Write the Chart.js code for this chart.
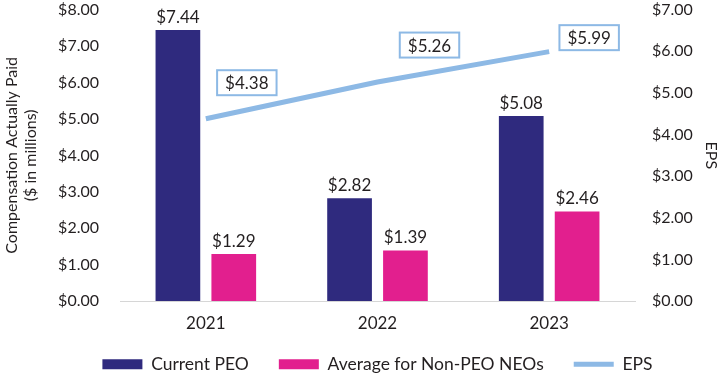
<!DOCTYPE html>
<html>
<head>
<meta charset="utf-8">
<script src="https://cdn.jsdelivr.net/npm/chart.js@4"></script>
<style>
  html, body { margin: 0; padding: 0; background: #fff; }
  #wrap { width: 725px; height: 376px; }
</style>
</head>
<body>
<div id="wrap"><canvas id="capChart" width="725" height="376"></canvas></div>
<script>
var years = ['2021', '2022', '2023'];
var peoPay = [7.44, 2.82, 5.08];
var neoPay = [1.29, 1.39, 2.46];
var eps = [4.38, 5.26, 5.99];

var navy = '#2f2a7e';
var pink = '#e21f8e';
var lightBlue = '#8db9e5';
var textColor = '#231f20';
var fontFamily = 'Lato, "Open Sans", sans-serif';

function money(v) { return '$' + Number(v).toFixed(2); }

// value labels above bars, boxed labels for the EPS line
var valueLabels = {
    id: 'valueLabels',
    afterDatasetsDraw: function(chart, args, opts) {
        var ctx = chart.ctx;
        ctx.save();
        ctx.font = '17px ' + fontFamily;
        ctx.textAlign = 'center';
        chart.data.datasets.forEach(function(ds, di) {
            var meta = chart.getDatasetMeta(di);
            meta.data.forEach(function(el, i) {
                var txt = money(ds.data[i]);
                if (ds.type === 'line') {
                    var off = opts.epsOffsets[i];
                    var cx = el.x + off[0], cy = el.y + off[1];
                    var w = ctx.measureText(txt).width + 16, h = 25;
                    ctx.fillStyle = '#fff';
                    ctx.fillRect(cx - w / 2, cy - h / 2, w, h);
                    ctx.strokeStyle = lightBlue;
                    ctx.lineWidth = 2;
                    ctx.strokeRect(cx - w / 2, cy - h / 2, w, h);
                    ctx.fillStyle = textColor;
                    ctx.textBaseline = 'middle';
                    ctx.fillText(txt, cx, cy + 1);
                } else {
                    ctx.fillStyle = textColor;
                    ctx.textBaseline = 'bottom';
                    ctx.fillText(txt, el.x, el.y - 4);
                }
            });
        });
        ctx.restore();
    }
};

// legend row sits centred under the plot and a little higher
var legendShift = {
    id: 'legendShift',
    afterLayout: function(chart) {
        chart.legend.left += 15;
        chart.legend.right += 15;
        chart.legend.top -= 20;
        chart.legend.bottom -= 20;
    }
};

var ctx = document.getElementById('capChart').getContext('2d');
var capChart = new Chart(ctx, {
    type: 'bar',
    data: {
        labels: years,
        datasets: [{
            type: 'line',
            label: 'EPS',
            data: eps,
            yAxisID: 'yEps',
            borderColor: lightBlue,
            backgroundColor: lightBlue,
            borderWidth: 5,
            pointRadius: 0,
            pointStyle: 'line',
            order: 0
        }, {
            label: 'Current PEO',
            data: peoPay,
            yAxisID: 'y',
            backgroundColor: navy,
            pointStyle: 'rect',
            categoryPercentage: 0.651,
            barPercentage: 0.8,
            order: 1
        }, {
            label: 'Average for Non-PEO NEOs',
            data: neoPay,
            yAxisID: 'y',
            backgroundColor: pink,
            pointStyle: 'rect',
            categoryPercentage: 0.651,
            barPercentage: 0.8,
            order: 1
        }]
    },
    options: {
        responsive: false,
        animation: false,
        layout: { padding: { top: 0, bottom: -27, left: 0, right: 0 } },
        plugins: {
            tooltip: { enabled: false },
            valueLabels: { epsOffsets: [[41, -36], [52, -37], [40, -14]] },
            legend: {
                position: 'bottom',
                labels: {
                    usePointStyle: true,
                    pointStyleWidth: 40,
                    boxHeight: 10,
                    padding: 30,
                    color: textColor,
                    font: { family: fontFamily, size: 17.5 },
                    sort: function(a, b) {
                        var o = ['Current PEO', 'Average for Non-PEO NEOs', 'EPS'];
                        return o.indexOf(a.text) - o.indexOf(b.text);
                    }
                }
            }
        },
        scales: {
            x: {
                grid: { display: false, drawTicks: false },
                border: { color: '#d6d6d6', width: 1 },
                ticks: { color: textColor, font: { family: fontFamily, size: 17 }, padding: 12 }
            },
            y: {
                position: 'left',
                min: 0,
                max: 8,
                grid: { display: false, tickLength: 21 },
                border: { display: false },
                ticks: {
                    stepSize: 1,
                    padding: 0,
                    color: textColor,
                    font: { family: fontFamily, size: 16 },
                    callback: money
                },
                title: {
                    display: true,
                    text: ['Compensation Actually Paid', '($ in millions)'],
                    color: textColor,
                    font: { family: fontFamily, size: 16 },
                    padding: { top: 2, bottom: 0 }
                },
                afterFit: function(scale) { scale.width = 120; }
            },
            yEps: {
                position: 'right',
                min: 0,
                max: 7,
                grid: { display: false, tickLength: 17 },
                border: { display: false },
                ticks: {
                    stepSize: 1,
                    padding: 0,
                    color: textColor,
                    font: { family: fontFamily, size: 16 },
                    callback: money
                },
                title: {
                    display: true,
                    text: 'EPS',
                    color: textColor,
                    font: { family: fontFamily, size: 16 },
                    padding: { top: 4, bottom: 4 }
                },
                afterFit: function(scale) { scale.width = 90; }
            }
        }
    },
    plugins: [valueLabels, legendShift]
});
</script>
</body>
</html>
